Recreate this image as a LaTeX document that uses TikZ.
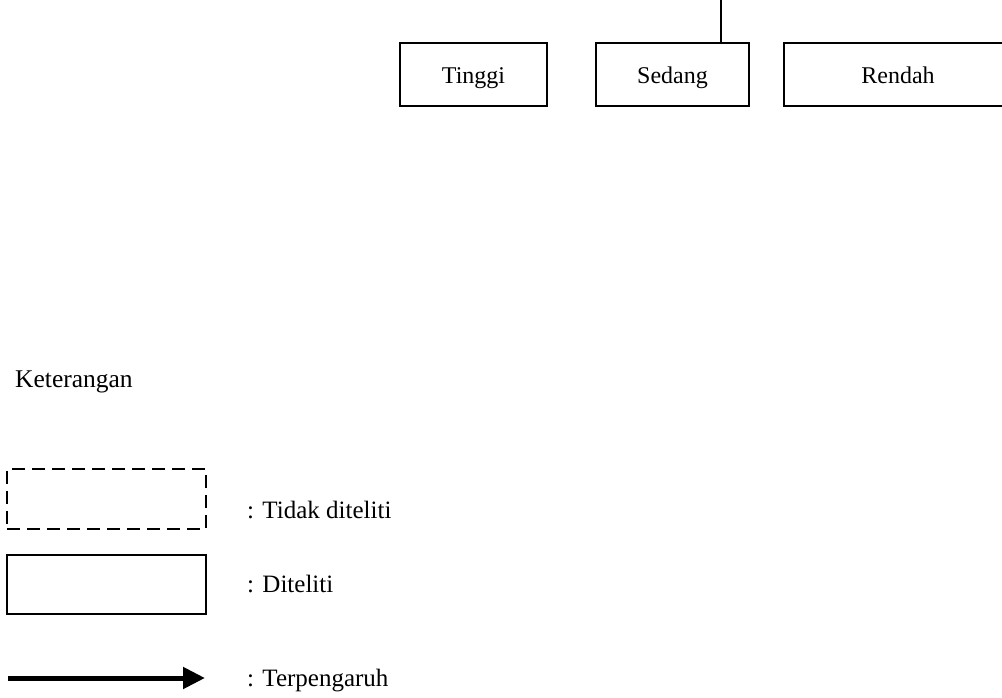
\documentclass[tikz,border=0pt]{standalone}
\usepackage{fontspec}
\setmainfont{Liberation Serif}
\usetikzlibrary{arrows.meta}
\begin{document}
\begin{tikzpicture}[x=1pt,y=-1pt,
  box/.style={draw,line width=1.3pt,inner sep=0pt,anchor=center,text height=18pt,text depth=0pt,font=\fontsize{24}{28}\selectfont},
  dbox/.style={box,dash pattern=on 13pt off 7pt},
  lbl/.style={anchor=west,inner sep=0pt,font=\fontsize{25}{30}\selectfont}]
\useasboundingbox (0,0) rectangle (1002,698);
\node[box,minimum width=147pt,minimum height=63pt] (tinggi) at (473.5,74.5) {Tinggi};
\node[box,minimum width=153pt,minimum height=63pt] (sedang) at (672.5,74.5) {Sedang};
\node[box,minimum width=228pt,minimum height=63pt] (rendah) at (898,74.5) {Rendah};
\coordinate (top) at (721,0);
\draw[line width=1.3pt] (top) -- (top |- sedang.north);
\node[lbl,font=\fontsize{25.5}{30}\selectfont] (ket) at (15,382) {Keterangan};
\node[dbox,minimum width=199pt,minimum height=60pt] (lda) at (106.5,499) {};
\node[box,minimum width=199pt,minimum height=59pt] (ldb) at (106.5,584.5) {};
\coordinate (arrA) at (8,678);
\coordinate (arrB) at (205,678);
\draw[line width=5pt,-{Triangle[length=22pt,width=21pt]}] (arrA) -- (arrB);
\node[lbl] (t1) at (247,510) {: Tidak diteliti};
\node[lbl] (t2) at (247,584) {: Diteliti};
\node[lbl] (t3) at (247,681) {: Terpengaruh};
\end{tikzpicture}
\end{document}
